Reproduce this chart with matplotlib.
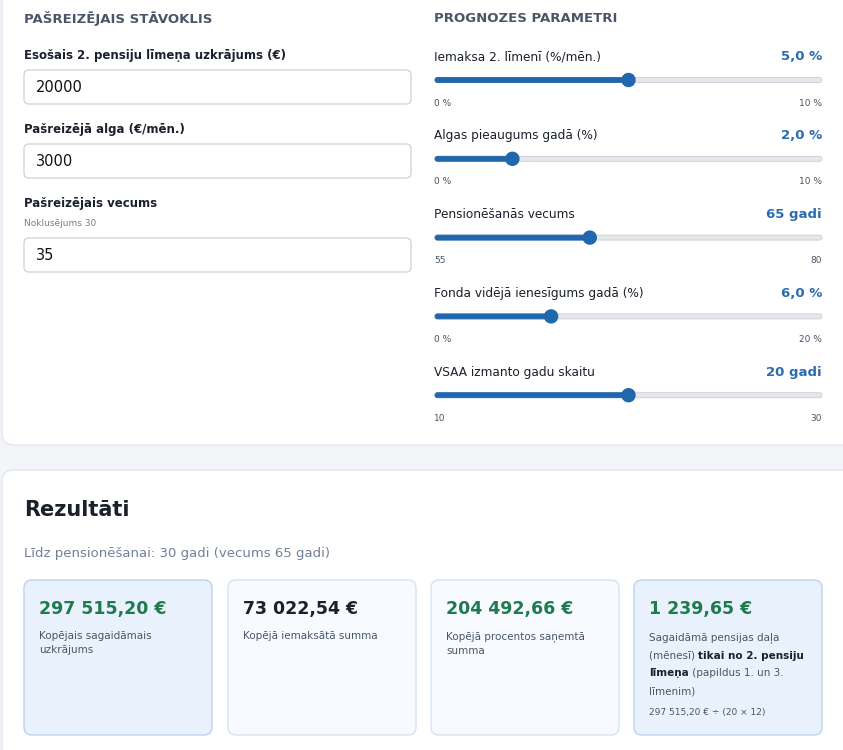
import matplotlib
matplotlib.use("Agg")
import matplotlib.pyplot as plt
from matplotlib.patches import FancyBboxPatch, Circle

plt.rcParams["font.family"] = ["DejaVu Sans"]

W, H = 843, 750
# --- data ---
input_labels = ["Esošais 2. pensiju līmeņa uzkrājums (€)", "Pašreizējā alga (€/mēn.)", "Pašreizējais vecums"]
input_values = ["20000", "3000", "35"]
slider_labels = ["Iemaksa 2. līmenī (%/mēn.)", "Algas pieaugums gadā (%)", "Pensionēšanās vecums",
                 "Fonda vidējā ienesīgums gadā (%)", "VSAA izmanto gadu skaitu"]
slider_values = [5.0, 2.0, 65, 6.0, 20]
slider_text = ["5,0 %", "2,0 %", "65 gadi", "6,0 %", "20 gadi"]
slider_min = [0, 0, 55, 0, 10]
slider_max = [10, 10, 80, 20, 30]
slider_min_txt = ["0 %", "0 %", "55", "0 %", "10"]
slider_max_txt = ["10 %", "10 %", "80", "20 %", "30"]
card_values = ["297 515,20 €", "73 022,54 €", "204 492,66 €", "1 239,65 €"]
card_desc = ["Kopējais sagaidāmais\nuzkrājums", "Kopējā iemaksātā summa", "Kopējā procentos saņemtā\nsumma", None]
card_colors = ["#1f7a4d", "#1a202c", "#1f7a4d", "#1f7a4d"]

fig = plt.figure(figsize=(W / 100, H / 100), dpi=100)
fig.patch.set_facecolor("#f3f5f8")
ax = fig.add_axes([0, 0, 1, 1])
ax.set_xlim(0, W); ax.set_ylim(H, 0); ax.axis("off")

def box(x0, y0, x1, y1, fc, ec, r=6, lw=1):
    ax.add_patch(FancyBboxPatch((x0, y0), x1 - x0, y1 - y0, boxstyle=f"round,pad=0,rounding_size={r}",
                                fc=fc, ec=ec, lw=lw))

# panels
box(2, -20, 860, 445, "white", "#e2e8f0", r=12)
box(2, 470, 860, 780, "white", "#e2e8f0", r=12)

hdr = dict(fontsize=9.5, fontweight="bold", color="#4a5568", va="center")
ax.text(24, 18, "PAŠREIZĒJAIS STĀVOKLIS", **hdr)
ax.text(434, 18, "PROGNOZES PARAMETRI", **hdr)

label_y = [55, 129, 204]
box_y = [70, 144, 238]
for lab, val, ly, by in zip(input_labels, input_values, label_y, box_y):
    ax.text(24, ly, lab, fontsize=8.5, fontweight="bold", color="#1a202c", va="center")
    box(24, by, 411, by + 34, "white", "#d1d5db", r=5)
    ax.text(36, by + 17, val, fontsize=10.5, color="#111", va="center")
ax.text(24, 224, "Noklusējums 30", fontsize=6.5, color="#718096", va="center")

x0, x1 = 435, 822
for i in range(5):
    ly = 57 + i * 78.8
    ty = ly + 23
    ax.text(434, ly, slider_labels[i], fontsize=8.7, color="#1a202c", va="center")
    ax.text(822, ly, slider_text[i], fontsize=9.5, fontweight="bold", color="#2b6cb0", va="center", ha="right")
    frac = (slider_values[i] - slider_min[i]) / (slider_max[i] - slider_min[i])
    kx = x0 + frac * (x1 - x0)
    box(x0, ty - 2.5, x1, ty + 2.5, "#e5e7eb", "#c9ced6", r=2.5, lw=0.6)
    box(x0, ty - 2.5, kx, ty + 2.5, "#2167ae", "#2167ae", r=2.5, lw=0.6)
    ax.add_patch(Circle((kx, ty), 6.5, fc="#2167ae", ec="#2167ae"))
    ax.text(434, ty + 23, slider_min_txt[i], fontsize=6.5, color="#4a5568", va="center")
    ax.text(822, ty + 23, slider_max_txt[i], fontsize=6.5, color="#4a5568", va="center", ha="right")

ax.text(24, 510, "Rezultāti", fontsize=15, fontweight="bold", color="#1a202c", va="center")
ax.text(24, 553, "Līdz pensionēšanai: 30 gadi (vecums 65 gadi)", fontsize=9.5, color="#718096", va="center")

card_x = [24, 228, 431, 634]
card_fc = ["#e8f1fc", "#f7faff", "#f7faff", "#e8f1fc"]
card_ec = ["#bcd3ee", "#d6e2f0", "#d6e2f0", "#bcd3ee"]
for i in range(4):
    cx = card_x[i]
    box(cx, 580, cx + 188, 735, card_fc[i], card_ec[i], r=8)
    ax.text(cx + 15, 609, card_values[i], fontsize=12.5, fontweight="bold", color=card_colors[i], va="center")
    if card_desc[i]:
        ax.text(cx + 15, 631, card_desc[i], fontsize=7.5, color="#4a5568", va="top", linespacing=1.55)

# card 4 mixed bold text
fig.canvas.draw()
rend = fig.canvas.get_renderer()
inv = ax.transData.inverted()
lines = [[("Sagaidāmā pensijas daļa", "normal")],
         [("(mēnesī) ", "normal"), ("tikai no 2. pensiju", "bold")],
         [("līmeņa", "bold"), (" (papildus 1. un 3.", "normal")],
         [("līmenim)", "normal")]]
for j, segs in enumerate(lines):
    x = card_x[3] + 15
    y = 638 + j * 17.7
    for s, wgt in segs:
        t = ax.text(x, y, s, fontsize=7.5, fontweight=wgt, color="#1a202c" if wgt == "bold" else "#4a5568",
                    va="center")
        bb = t.get_window_extent(rend)
        x = inv.transform((bb.x1, bb.y0))[0]
ax.text(card_x[3] + 15, 712, "297 515,20 € ÷ (20 × 12)", fontsize=6.5, color="#4a5568", va="center")

fig.savefig("out.png", dpi=100, facecolor=fig.get_facecolor())
